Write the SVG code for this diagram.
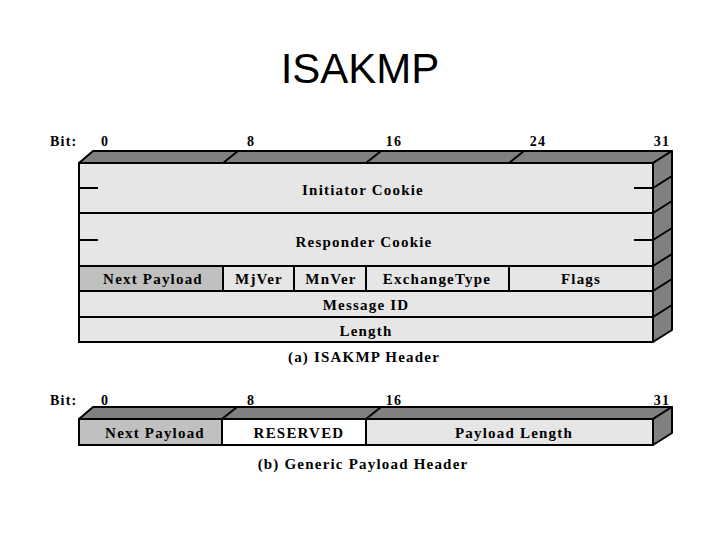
<svg xmlns="http://www.w3.org/2000/svg" width="720" height="540" viewBox="0 0 720 540">
<style>
.title{font-family:"Liberation Sans",Arial,sans-serif;font-size:42px;fill:#000}
.bit{font-family:"Liberation Serif","Times New Roman",serif;font-weight:bold;font-size:14px;letter-spacing:1.2px;fill:#000}
.lbl{font-family:"Liberation Serif","Times New Roman",serif;font-weight:bold;font-size:15px;letter-spacing:1.2px;fill:#000;text-anchor:middle}
.front{fill:#e6e6e6;stroke:#000;stroke-width:2}
.dark{fill:#c0c0c0;stroke:#000;stroke-width:2}
.white{fill:#fff;stroke:#000;stroke-width:2}
.side{fill:#808080;stroke:#000;stroke-width:2;stroke-linejoin:round}
.ln{stroke:#000;stroke-width:2;fill:none}
</style>
<rect width="720" height="540" fill="#fff"/>
<text class="title" x="360" y="83" text-anchor="middle">ISAKMP</text>

<g id="headerA">
  <g id="bitsA">
    <text class="bit" x="50" y="146">Bit:</text>
    <text class="bit" x="105" y="146" text-anchor="middle">0</text>
    <text class="bit" x="251" y="146" text-anchor="middle">8</text>
    <text class="bit" x="394" y="146" text-anchor="middle">16</text>
    <text class="bit" x="538" y="146" text-anchor="middle">24</text>
    <text class="bit" x="662" y="146" text-anchor="middle">31</text>
  </g>
  <polygon class="side" points="79,163 93,151 672,151 653,163"/>
  <polygon class="side" points="653,163 672,151 672,330 653,342"/>
  <g id="initiator"><rect class="front" x="79" y="163" width="574" height="50"/><text class="lbl" x="363" y="195">Initiator Cookie</text></g>
  <g id="responder"><rect class="front" x="79" y="213" width="574" height="53"/><text class="lbl" x="364" y="247">Responder Cookie</text></g>
  <g id="nextPayloadA"><rect class="dark" x="79" y="266" width="144" height="25"/><text class="lbl" x="153" y="284">Next Payload</text></g>
  <g id="mjver"><rect class="front" x="223" y="266" width="71" height="25"/><text class="lbl" x="259" y="284">MjVer</text></g>
  <g id="mnver"><rect class="front" x="294" y="266" width="72" height="25"/><text class="lbl" x="331" y="284">MnVer</text></g>
  <g id="exchangeType"><rect class="front" x="366" y="266" width="143" height="25"/><text class="lbl" x="437" y="284">ExchangeType</text></g>
  <g id="flags"><rect class="front" x="509" y="266" width="144" height="25"/><text class="lbl" x="581" y="284">Flags</text></g>
  <g id="messageId"><rect class="front" x="79" y="291" width="574" height="26"/><text class="lbl" x="366" y="310">Message ID</text></g>
  <g id="length"><rect class="front" x="79" y="317" width="574" height="25"/><text class="lbl" x="366" y="336">Length</text></g>
  <g id="detailsA">
    <path class="ln" d="M223,163 L238,151 M366,163 L381,151 M509,163 L524,151"/>
    <path class="ln" d="M653,188 L672,176 M653,213 L672,201 M653,240 L672,228 M653,266 L672,254 M653,291 L672,279 M653,317 L672,305"/>
    <path class="ln" d="M79,188 H98 M79,240 H98 M634,188 H653 M634,240 H653"/>
  </g>
  <text class="lbl" x="364" y="362">(a) ISAKMP Header</text>
</g>

<g id="headerB">
  <g id="bitsB">
    <text class="bit" x="50" y="405">Bit:</text>
    <text class="bit" x="105" y="405" text-anchor="middle">0</text>
    <text class="bit" x="251" y="405" text-anchor="middle">8</text>
    <text class="bit" x="394" y="405" text-anchor="middle">16</text>
    <text class="bit" x="662" y="405" text-anchor="middle">31</text>
  </g>
  <polygon class="side" points="79,419 93,407 672,407 653,419"/>
  <polygon class="side" points="653,419 672,407 672,433 653,445"/>
  <g id="nextPayloadB"><rect class="dark" x="79" y="419" width="143" height="26"/><text class="lbl" x="155" y="438">Next Payload</text></g>
  <g id="reserved"><rect class="white" x="222" y="419" width="144" height="26"/><text class="lbl" x="299" y="438">RESERVED</text></g>
  <g id="payloadLength"><rect class="front" x="366" y="419" width="287" height="26"/><text class="lbl" x="514" y="438">Payload Length</text></g>
  <path class="ln" d="M222,419 L237,407 M366,419 L381,407"/>
  <text class="lbl" x="363" y="469">(b) Generic Payload Header</text>
</g>
<g id="connectors"/>
</svg>
